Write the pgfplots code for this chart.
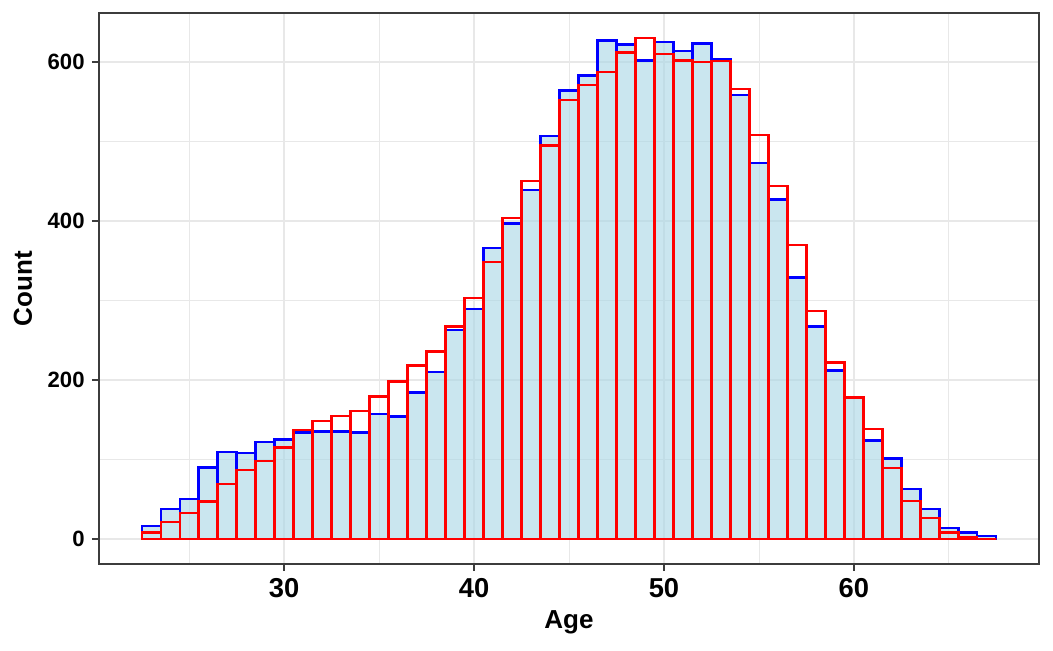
\documentclass[border=0pt]{standalone}
\usepackage{fontspec}
\setmainfont{Liberation Sans}
\usepackage{pgfplots}
\pgfplotsset{compat=1.18}
\definecolor{lightblue}{RGB}{173,216,230}
\definecolor{grid92}{RGB}{232,232,232}
\definecolor{grey20}{RGB}{60,60,60}

\begin{document}
\begin{tikzpicture}
\useasboundingbox (-74.25pt,-64.5pt) rectangle (715.5pt,423pt);
\begin{axis}[
    at={(0,0)}, anchor=south west,
    scale only axis, width=705pt, height=413.25pt,
    xmin=20.25, xmax=69.75, ymin=-31.5, ymax=661.5,
    xtick={30,40,50,60}, ytick={0,200,400,600},
    minor xtick={25,35,45,55,65}, minor ytick={100,300,500},
    grid=both,
    major grid style={grid92, line width=1.1pt},
    minor grid style={grid92, line width=0.6pt},
    tick pos=left, tick align=outside,
    major tick length=5.25pt,
    major tick style={draw=grey20, line width=1.3pt},
    minor tick style={draw=none},
    axis line style={grey20, line width=1.1pt},
    /pgf/number format/assume math mode=true,
    xticklabel style={font=\bfseries\fontsize{20.5}{20.5}\selectfont, anchor=base, yshift=-20pt},
    yticklabel style={font=\bfseries\fontsize{16.6}{16.6}\selectfont, anchor=east, xshift=-2pt},
    xlabel={Age},
    xlabel style={font=\bfseries\fontsize{19.5}{19.5}\selectfont, at={(axis description cs:0.5,-0.1162)}, anchor=base},
    ylabel={Count},
    ylabel style={font=\bfseries\fontsize{19.5}{19.5}\selectfont, at={(axis description cs:-0.0713,0.5)}, anchor=base},
    % tick marks outside the panel, as in ggplot
    after end axis/.code={
        \foreach \t in {30,40,50,60}
            \draw[grey20, line width=1.3pt] (axis cs:\t,-31.5) -- ++(0,-5.25pt);
        \foreach \t in {0,200,400,600}
            \draw[grey20, line width=1.3pt] (axis cs:20.25,\t) -- ++(-5.25pt,0);
    },
]
% blue histogram (filled)
\addplot[ybar interval, draw=blue, line width=1.8pt, fill=lightblue, fill opacity=0.65] coordinates {
    (22.5,16) (23.5,38) (24.5,50) (25.5,90) (26.5,109) (27.5,108) (28.5,122) (29.5,125)
    (30.5,134) (31.5,135) (32.5,135) (33.5,134) (34.5,157) (35.5,154) (36.5,184) (37.5,210)
    (38.5,263) (39.5,289) (40.5,366) (41.5,397) (42.5,439) (43.5,507) (44.5,564) (45.5,583)
    (46.5,627) (47.5,622) (48.5,602) (49.5,625) (50.5,614) (51.5,623) (52.5,603) (53.5,558)
    (54.5,473) (55.5,427) (56.5,329) (57.5,267) (58.5,212) (59.5,178) (60.5,124) (61.5,101)
    (62.5,63) (63.5,38) (64.5,14) (65.5,8) (66.5,4) (67.5,4)
};
% red histogram (outline only)
\addplot[ybar interval, draw=red, line width=1.8pt, fill=none] coordinates {
    (22.5,8) (23.5,21) (24.5,33) (25.5,47) (26.5,69) (27.5,87) (28.5,98) (29.5,115)
    (30.5,137) (31.5,148) (32.5,155) (33.5,161) (34.5,179) (35.5,198) (36.5,218) (37.5,236)
    (38.5,267) (39.5,303) (40.5,348) (41.5,404) (42.5,450) (43.5,495) (44.5,552) (45.5,571)
    (46.5,587) (47.5,612) (48.5,630) (49.5,610) (50.5,602) (51.5,600) (52.5,601) (53.5,566)
    (54.5,508) (55.5,444) (56.5,370) (57.5,287) (58.5,222) (59.5,178) (60.5,138) (61.5,89)
    (62.5,48) (63.5,26) (64.5,8) (65.5,2) (66.5,0) (67.5,0)
};
\end{axis}
\end{tikzpicture}
\end{document}
